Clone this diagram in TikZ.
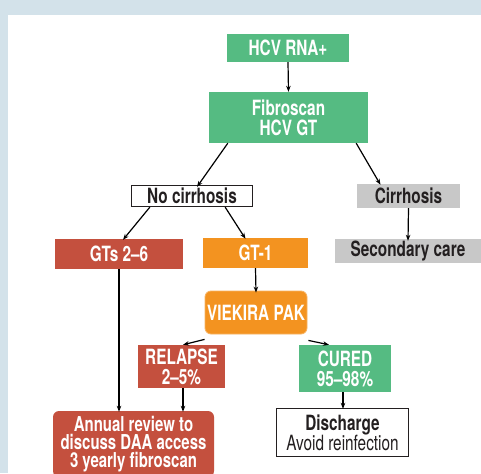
\documentclass[tikz,border=0pt]{standalone}
\usepackage{fontspec}
\setmainfont{TeX Gyre Heros}[FakeStretch=0.73]
\usetikzlibrary{arrows.meta}
\definecolor{bgblue}{HTML}{D3E2EA}
\definecolor{hgreen}{HTML}{55BB82}
\definecolor{hred}{HTML}{C4503E}
\definecolor{horange}{HTML}{F39320}
\definecolor{hgray}{HTML}{C8C8C8}
\definecolor{hdark}{HTML}{231F20}
\tikzset{
  box/.style={inner sep=0pt, align=center, font=\fontsize{21}{20}\selectfont\bfseries},
  colbox/.style={box, text=white},
  greybox/.style={box, fill=hgray, text=hdark},
  outbox/.style={box, fill=white, draw=hdark, line width=1.3pt, text=hdark},
  conn/.style={draw=black, line width=1.2pt, -{Stealth[length=6pt,width=4.5pt]}}
}
\begin{document}
\begin{tikzpicture}[x=1pt,y=-1pt]
\useasboundingbox (0,0) rectangle (481,473);
\fill[bgblue] (0,0) rectangle (481,473);
\fill[white] (8,15) rectangle (481,473);
\node[colbox, fill=hgreen, minimum width=122pt, minimum height=28pt] (rna) at (288,48) {HCV RNA+};
\node[colbox, fill=hgreen, minimum width=159pt, minimum height=51pt] (fib) at (288.5,117.5) {Fibroscan\\HCV GT};
\node[outbox, minimum width=121pt, minimum height=21pt] (nocir) at (192,196) {No cirrhosis};
\node[greybox, minimum width=103pt, minimum height=24pt] (cir) at (408.5,196) {Cirrhosis};
\node[colbox, fill=hred, minimum width=128pt, minimum height=30pt] (gts) at (119,254) {GTs 2--6};
\node[colbox, fill=horange, minimum width=105pt, minimum height=30pt] (gt1) at (255.5,253) {GT-1};
\node[greybox, minimum width=146pt, minimum height=24pt] (sec) at (408,251) {Secondary care};
\node[colbox, fill=horange, draw=horange!70!white, line width=0.8pt, rounded corners=6pt, minimum width=102pt, minimum height=43pt] (vie) at (256,312.5) {VIEKIRA PAK};
\node[colbox, fill=hred, minimum width=87pt, minimum height=43pt] (rel) at (181.5,366.5) {RELAPSE\\2--5\%};
\node[colbox, fill=hgreen, minimum width=92pt, minimum height=47pt] (cur) at (345,368.5) {CURED\\95--98\%};
\node[colbox, fill=hred, rounded corners=6pt, minimum width=161pt, minimum height=66pt, font=\fontsize{20.5}{18}\selectfont\bfseries] (ann) at (133.5,444) {Annual review to\\discuss DAA access\\3 yearly fibroscan};
\node[outbox, minimum width=132pt, minimum height=48pt] (dis) at (342.5,432.5) {Discharge\\{\mdseries Avoid reinfection}};
\draw[conn] (rna.south) -- (fib.north);
\draw[conn] ([xshift=19pt]fib.south west) -- ([xshift=5pt,yshift=-2pt]nocir.north);
\draw[conn] ([xshift=-12pt]fib.south east) -- ([xshift=-28pt,yshift=-1pt]cir.north);
\draw[conn] ([xshift=19pt]nocir.south west) -- ([xshift=4pt,yshift=-1pt]gts.north);
\draw[conn] ([xshift=-28pt]nocir.south east) -- ([xshift=-10pt,yshift=-1pt]gt1.north);
\draw[conn] (cir.south) -- ([yshift=-2pt]sec.north);
\draw[conn] (gt1.south) -- ([yshift=-2pt]vie.north);
\draw[conn] ([yshift=-5pt]vie.south west) -- ([xshift=1.5pt]rel.north);
\draw[conn] ([xshift=1pt,yshift=-6pt]vie.south east) -- ([xshift=-16pt]cur.north);
\draw[conn] (gts.south) -- ([yshift=-1pt]gts.south |- ann.north);
\draw[conn] ([xshift=1.5pt]rel.south) -- ([xshift=1.5pt,yshift=-1pt]rel.south |- ann.north);
\draw[conn] ([xshift=-2pt]cur.south) -- ([xshift=-2pt,yshift=-1pt]cur.south |- dis.north);
\end{tikzpicture}
\end{document}
